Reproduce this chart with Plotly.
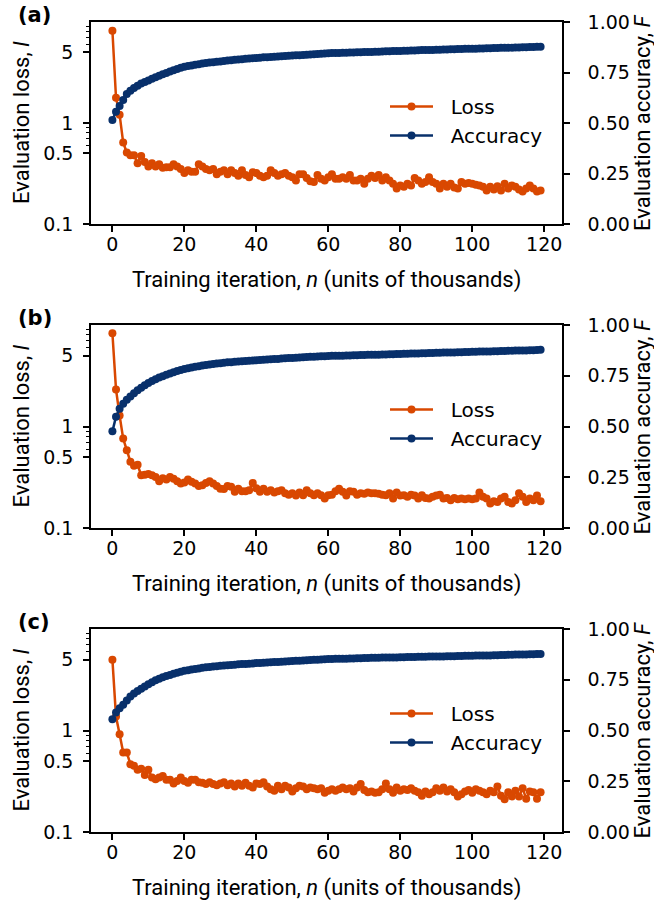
import plotly.graph_objects as go

iterations = list(range(120))

loss_a = [8.2, 1.78, 1.21, 0.64, 0.51, 0.48, 0.48, 0.40, 0.47, 0.41,
          0.37, 0.40, 0.37, 0.39, 0.36, 0.365, 0.365, 0.39, 0.37, 0.35,
          0.32, 0.34, 0.33, 0.33, 0.39, 0.37, 0.35, 0.34, 0.35, 0.31,
          0.33, 0.34, 0.31, 0.34, 0.32, 0.30, 0.34, 0.305, 0.29, 0.325,
          0.32, 0.30, 0.29, 0.30, 0.34, 0.32, 0.30, 0.31, 0.32, 0.30,
          0.29, 0.27, 0.31, 0.31, 0.285, 0.265, 0.26, 0.305, 0.28, 0.27,
          0.29, 0.31, 0.28, 0.28, 0.29, 0.28, 0.305, 0.27, 0.27, 0.28,
          0.25, 0.28, 0.30, 0.285, 0.305, 0.27, 0.29, 0.27, 0.25, 0.225,
          0.24, 0.234, 0.25, 0.24, 0.285, 0.27, 0.25, 0.26, 0.29, 0.26,
          0.25, 0.225, 0.25, 0.234, 0.25, 0.23, 0.225, 0.26, 0.25, 0.255,
          0.25, 0.245, 0.24, 0.234, 0.215, 0.234, 0.22, 0.237, 0.215, 0.25,
          0.225, 0.24, 0.234, 0.22, 0.21, 0.225, 0.24, 0.225, 0.21, 0.215]

acc_a = [0.515, 0.556, 0.584, 0.614, 0.644, 0.660, 0.673, 0.685, 0.695, 0.703,
         0.711, 0.719, 0.727, 0.734, 0.741, 0.748, 0.755, 0.761, 0.767, 0.773,
         0.779, 0.782, 0.785, 0.788, 0.791, 0.794, 0.797, 0.799, 0.801, 0.803,
         0.805, 0.807, 0.809, 0.811, 0.813, 0.814, 0.816, 0.818, 0.819, 0.821,
         0.822, 0.823, 0.825, 0.826, 0.827, 0.828, 0.829, 0.830, 0.832, 0.833,
         0.834, 0.835, 0.836, 0.837, 0.838, 0.839, 0.840, 0.841, 0.843, 0.844,
         0.845, 0.846, 0.846, 0.847, 0.848, 0.848, 0.849, 0.849, 0.850, 0.850,
         0.851, 0.852, 0.852, 0.853, 0.853, 0.854, 0.855, 0.855, 0.856, 0.856,
         0.857, 0.858, 0.858, 0.859, 0.859, 0.860, 0.861, 0.861, 0.862, 0.862,
         0.863, 0.863, 0.864, 0.864, 0.865, 0.865, 0.866, 0.866, 0.867, 0.867,
         0.868, 0.868, 0.869, 0.869, 0.870, 0.870, 0.871, 0.871, 0.872, 0.872,
         0.873, 0.873, 0.874, 0.874, 0.875, 0.875, 0.876, 0.876, 0.877, 0.878]

loss_b = [8.3, 2.32, 1.28, 0.76, 0.585, 0.45, 0.41, 0.42, 0.331, 0.335,
          0.34, 0.33, 0.318, 0.289, 0.31, 0.30, 0.318, 0.305, 0.289, 0.274,
          0.28, 0.30, 0.285, 0.274, 0.26, 0.264, 0.278, 0.289, 0.274, 0.26,
          0.244, 0.242, 0.26, 0.255, 0.227, 0.244, 0.23, 0.23, 0.236, 0.278,
          0.247, 0.227, 0.244, 0.227, 0.236, 0.224, 0.23, 0.236, 0.22, 0.213,
          0.22, 0.209, 0.224, 0.21, 0.236, 0.22, 0.21, 0.22, 0.21, 0.195,
          0.21, 0.213, 0.23, 0.244, 0.227, 0.209, 0.23, 0.227, 0.213, 0.22,
          0.217, 0.224, 0.22, 0.22, 0.217, 0.213, 0.21, 0.22, 0.195, 0.224,
          0.209, 0.21, 0.203, 0.213, 0.209, 0.195, 0.21, 0.198, 0.195, 0.203,
          0.209, 0.213, 0.195, 0.198, 0.188, 0.198, 0.192, 0.195, 0.192, 0.195,
          0.192, 0.195, 0.224, 0.203, 0.195, 0.174, 0.183, 0.18, 0.195, 0.203,
          0.18, 0.174, 0.188, 0.22, 0.203, 0.18, 0.195, 0.188, 0.209, 0.183]

acc_b = [0.476, 0.548, 0.587, 0.612, 0.632, 0.648, 0.664, 0.678, 0.691, 0.703,
         0.714, 0.724, 0.733, 0.741, 0.748, 0.755, 0.761, 0.767, 0.773, 0.778,
         0.783, 0.787, 0.791, 0.794, 0.797, 0.800, 0.803, 0.806, 0.808, 0.810,
         0.812, 0.814, 0.816, 0.817, 0.819, 0.820, 0.822, 0.823, 0.824, 0.825,
         0.826, 0.827, 0.829, 0.830, 0.831, 0.832, 0.833, 0.835, 0.836, 0.837,
         0.838, 0.839, 0.840, 0.841, 0.842, 0.843, 0.844, 0.845, 0.846, 0.846,
         0.847, 0.848, 0.848, 0.849, 0.849, 0.850, 0.850, 0.851, 0.851, 0.852,
         0.852, 0.853, 0.853, 0.854, 0.854, 0.855, 0.855, 0.856, 0.856, 0.857,
         0.857, 0.858, 0.858, 0.859, 0.859, 0.860, 0.861, 0.861, 0.862, 0.862,
         0.863, 0.863, 0.864, 0.864, 0.865, 0.865, 0.866, 0.866, 0.867, 0.867,
         0.868, 0.868, 0.869, 0.869, 0.870, 0.870, 0.871, 0.871, 0.872, 0.872,
         0.873, 0.873, 0.874, 0.874, 0.875, 0.875, 0.876, 0.876, 0.877, 0.878]

loss_c = [4.99, 1.37, 0.92, 0.607, 0.607, 0.466, 0.45, 0.41, 0.42, 0.365,
          0.41, 0.344, 0.331, 0.344, 0.357, 0.327, 0.327, 0.30, 0.318, 0.344,
          0.318, 0.305, 0.327, 0.327, 0.31, 0.305, 0.297, 0.31, 0.297, 0.289,
          0.30, 0.31, 0.289, 0.30, 0.28, 0.30, 0.285, 0.305, 0.285, 0.274,
          0.30, 0.297, 0.31, 0.28, 0.264, 0.255, 0.285, 0.264, 0.285, 0.274,
          0.25, 0.27, 0.285, 0.28, 0.264, 0.274, 0.27, 0.264, 0.27, 0.244,
          0.255, 0.264, 0.255, 0.264, 0.274, 0.264, 0.27, 0.25, 0.274, 0.297,
          0.26, 0.247, 0.25, 0.244, 0.247, 0.264, 0.30, 0.264, 0.244, 0.274,
          0.255, 0.264, 0.26, 0.27, 0.255, 0.247, 0.227, 0.25, 0.236, 0.247,
          0.27, 0.255, 0.274, 0.25, 0.264, 0.247, 0.224, 0.236, 0.25, 0.26,
          0.244, 0.264, 0.255, 0.247, 0.236, 0.255, 0.247, 0.28, 0.227, 0.21,
          0.247, 0.224, 0.255, 0.224, 0.27, 0.213, 0.25, 0.247, 0.213, 0.247]

acc_c = [0.556, 0.589, 0.610, 0.627, 0.648, 0.668, 0.682, 0.695, 0.706, 0.717,
         0.728, 0.738, 0.747, 0.755, 0.762, 0.768, 0.774, 0.780, 0.785, 0.790,
         0.794, 0.797, 0.800, 0.803, 0.806, 0.809, 0.811, 0.813, 0.815, 0.817,
         0.819, 0.820, 0.822, 0.823, 0.824, 0.826, 0.827, 0.828, 0.829, 0.830,
         0.832, 0.833, 0.834, 0.835, 0.836, 0.837, 0.838, 0.839, 0.840, 0.841,
         0.842, 0.843, 0.844, 0.845, 0.846, 0.847, 0.848, 0.849, 0.850, 0.851,
         0.852, 0.852, 0.853, 0.853, 0.854, 0.854, 0.855, 0.855, 0.856, 0.856,
         0.857, 0.857, 0.858, 0.858, 0.858, 0.859, 0.859, 0.860, 0.860, 0.860,
         0.861, 0.861, 0.862, 0.862, 0.862, 0.863, 0.863, 0.863, 0.864, 0.864,
         0.864, 0.865, 0.865, 0.866, 0.866, 0.866, 0.867, 0.867, 0.868, 0.868,
         0.868, 0.869, 0.869, 0.870, 0.870, 0.870, 0.871, 0.871, 0.872, 0.872,
         0.873, 0.873, 0.874, 0.874, 0.875, 0.875, 0.876, 0.876, 0.877, 0.877]

panel_labels = ["(a)", "(b)", "(c)"]
series_names = ["\u00a0\u00a0Loss", "\u00a0\u00a0Accuracy"]
x_ticks = [0, 20, 40, 60, 80, 100, 120]
loss_ticks = [0.1, 0.5, 1, 5]
loss_ticktext = ["0.1", "0.5", "1", "5"]
loss_minor = [0.6, 0.7, 0.8, 0.9, 6, 7, 8, 9]
acc_ticks = [0.0, 0.25, 0.5, 0.75, 1.0]

ORANGE = "#d94801"
NAVY = "#08306b"
W, H = 654, 907
TICKFONT = dict(family="DejaVu Sans", size=19, color="black")
TITLEFONT = dict(family="Roboto", size=22, color="black")

# panel geometry in pixels (top, bottom) and shared x extent
panels_px = [(22, 224), (325, 528), (629, 832)]
x_left, x_right = 91, 562
xdom = [x_left / W, x_right / W]

fig = go.Figure()
losses = [loss_a, loss_b, loss_c]
accs = [acc_a, acc_b, acc_c]

for i in range(3):
    xa = "x" if i == 0 else f"x{i+1}"
    yl = "y" if i == 0 else f"y{2*i+1}"
    yr = f"y{2*i+2}"
    leg = "legend" if i == 0 else f"legend{i+1}"
    fig.add_trace(go.Scatter(x=iterations, y=losses[i], mode="lines+markers", name=series_names[0],
                             line=dict(color=ORANGE, width=2.5), marker=dict(color=ORANGE, size=8),
                             xaxis=xa, yaxis=yl, legend=leg))
    fig.add_trace(go.Scatter(x=iterations, y=accs[i], mode="lines+markers", name=series_names[1],
                             line=dict(color=NAVY, width=2.5), marker=dict(color=NAVY, size=8),
                             xaxis=xa, yaxis=yr, legend=leg))

layout = dict(template="none", width=W, height=H, margin=dict(l=0, r=0, t=0, b=0, pad=0),
              paper_bgcolor="white", plot_bgcolor="white", showlegend=True)

annotations = []
for i, (top, bot) in enumerate(panels_px):
    ydom = [1 - bot / H, 1 - top / H]
    xkey = "xaxis" if i == 0 else f"xaxis{i+1}"
    ylk = "yaxis" if i == 0 else f"yaxis{2*i+1}"
    yrk = f"yaxis{2*i+2}"
    ylname = "y" if i == 0 else f"y{2*i+1}"
    xname = "x" if i == 0 else f"x{i+1}"
    layout[xkey] = dict(domain=xdom, anchor=ylname, range=[-5.95, 124.95], automargin=False,
                        tickmode="array", tickvals=x_ticks, ticks="outside", ticklen=6, tickwidth=1.5,
                        tickcolor="black", showline=True, linecolor="black", linewidth=1.5, mirror=True,
                        showgrid=False, zeroline=False, tickfont=TICKFONT, ticklabelstandoff=-4)
    layout[ylk] = dict(domain=ydom, anchor=xname, type="log", range=[-1, 1], automargin=False,
                       tickmode="array", tickvals=loss_ticks, ticktext=loss_ticktext,
                       ticks="outside", ticklen=6, tickwidth=1.5, tickcolor="black",
                       minor=dict(tickmode="array", tickvals=loss_minor, ticks="outside",
                                  ticklen=3.5, tickwidth=1, tickcolor="black", showgrid=False),
                       showline=True, linecolor="black", linewidth=1.5, mirror=False,
                       showgrid=False, zeroline=False, tickfont=TICKFONT, ticklabelstandoff=6)
    layout[yrk] = dict(domain=ydom, anchor=xname, overlaying=ylname, side="right", range=[0, 1],
                       automargin=False,
                       tickmode="array", tickvals=acc_ticks, tickformat=".2f",
                       ticks="outside", ticklen=6, tickwidth=1.5, tickcolor="black",
                       showline=True, linecolor="black", linewidth=1.5,
                       showgrid=False, zeroline=False, tickfont=TICKFONT, ticklabelstandoff=14)
    legkey = "legend" if i == 0 else f"legend{i+1}"
    layout[legkey] = dict(x=385 / W, y=1 - (top + 65) / H, xanchor="left", yanchor="top",
                          bgcolor="rgba(0,0,0,0)", borderwidth=0,
                          font=dict(family="DejaVu Sans", size=20, color="black"),
                          tracegroupgap=0, itemwidth=43)
    mid = (top + bot) / 2
    annotations.append(dict(text=panel_labels[i], x=16 / W, y=1 - (top - 7) / H, xref="paper", yref="paper",
                            xanchor="left", yanchor="middle", showarrow=False,
                            font=dict(family="DejaVu Sans", size=21, color="black", weight="bold")))
    annotations.append(dict(text="Evaluation loss, <i>l</i>", x=21 / W, y=1 - mid / H, xref="paper", yref="paper",
                            xanchor="center", yanchor="middle", textangle=-90, showarrow=False, font=TITLEFONT))
    annotations.append(dict(text="Evaluation accuracy, <i>F</i>", x=642 / W, y=1 - mid / H, xref="paper",
                            yref="paper", xanchor="center", yanchor="middle", textangle=-90, showarrow=False,
                            font=TITLEFONT))
    annotations.append(dict(text="Training iteration, <i>n</i> (units of thousands)", x=(x_left + x_right) / 2 / W,
                            y=1 - (bot + 56) / H, xref="paper", yref="paper", xanchor="center", yanchor="middle",
                            showarrow=False, font=TITLEFONT))

layout["annotations"] = annotations
fig.update_layout(**layout)
fig.write_html("out.html", config={"displayModeBar": False},
               post_script="document.body.style.margin='0px';")
